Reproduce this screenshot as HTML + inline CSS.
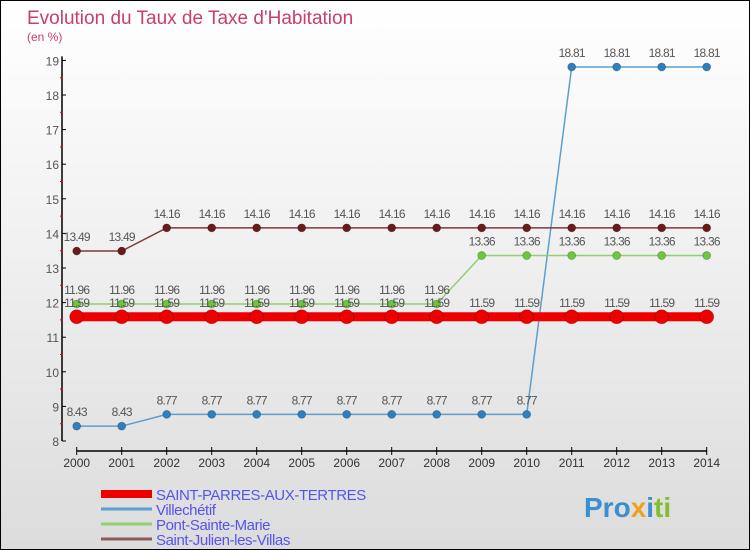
<!DOCTYPE html>
<html><head><meta charset="utf-8"><style>
body{margin:0;}
#c{width:748px;height:548px;border:1px solid #000;background:linear-gradient(#fff,#f2f2f2 40%,#dcdcdc);position:relative;font-family:"Liberation Sans",sans-serif;overflow:hidden}
</style></head><body>
<div id="c">
<svg id="s" width="748" height="548" xmlns="http://www.w3.org/2000/svg" font-family="Liberation Sans, sans-serif">
<text x="26" y="23" font-size="19" fill="#c8406a">Evolution du Taux de Taxe d'Habitation</text>
<text x="26" y="40" font-size="12" fill="#c8406a">(en %)</text>
<g id="axes"></g><g id="marks"></g><g id="legend"></g>
<text x="583" y="516" font-size="28" font-weight="bold" fill="#3a8fd0">Pro<tspan fill="#f0a020">x</tspan><tspan fill="#3a8fd0">i</tspan><tspan fill="#80c030">ti</tspan></text>
</svg></div>
<script>
const years=[2000,2001,2002,2003,2004,2005,2006,2007,2008,2009,2010,2011,2012,2013,2014];
const yTicks=[8,9,10,11,12,13,14,15,16,17,18,19];
const sNames=["SAINT-PARRES-AUX-TERTRES","Villechétif","Pont-Sainte-Marie","Saint-Julien-les-Villas"];
const saintParres=[11.59,11.59,11.59,11.59,11.59,11.59,11.59,11.59,11.59,11.59,11.59,11.59,11.59,11.59,11.59];
const villechetif=[8.43,8.43,8.77,8.77,8.77,8.77,8.77,8.77,8.77,8.77,8.77,18.81,18.81,18.81,18.81];
const pontSainteMarie=[11.96,11.96,11.96,11.96,11.96,11.96,11.96,11.96,11.96,13.36,13.36,13.36,13.36,13.36,13.36];
const saintJulien=[13.49,13.49,14.16,14.16,14.16,14.16,14.16,14.16,14.16,14.16,14.16,14.16,14.16,14.16,14.16];
const NS="http://www.w3.org/2000/svg";
const X=i=>75.7+i*45;
const Y=v=>440-(v-8)*34.6;
function mk(tag,attrs,parent,txt){const e=document.createElementNS(NS,tag);for(const k in attrs)e.setAttribute(k,attrs[k]);if(txt!==undefined)e.textContent=txt;parent.appendChild(e);return e;}
const ax=document.getElementById('axes'),mg=document.getElementById('marks'),lg=document.getElementById('legend');
let l=mk('line',{x1:61,y1:Y(19)-4,x2:61,y2:440,stroke:'#000','stroke-width':1.5},ax);


l=mk('line',{x1:X(0),y1:450,x2:X(14),y2:450,stroke:'#000','stroke-width':1.5},ax);


yTicks.forEach(v=>{
 mk('line',{x1:61,y1:Y(v),x2:65,y2:Y(v),stroke:'#000'},ax);
 if(v<19)mk('line',{x1:59,y1:Y(v+0.5),x2:62,y2:Y(v+0.5),stroke:'#e00'},ax);
 const t=mk('text',{x:58,y:Y(v)+5,'font-size':12,fill:'#555','text-anchor':'end'},ax,v);
 
 
});
years.forEach((yr,i)=>{
 mk('line',{x1:X(i),y1:446,x2:X(i),y2:454,stroke:'#000'},ax);
 const t=mk('text',{x:X(i),y:466,'font-size':12,fill:'#333','text-anchor':'middle'},ax,yr);
 
 
});
const series=[[villechetif,'#5a9fd0','#2e7fc0',1.5,4,'villechetif'],[pontSainteMarie,'#90d070','#6cc83a',1.5,4,'pont-sainte-marie'],[saintJulien,'#7a3a3a','#6a1a1a',1.5,4,'saint-julien'],[saintParres,'#ee0000','#ee0000',9,7,'saint-parres']];
series.forEach(([d,lc,pc,w,r,n])=>{
 const p=mk('polyline',{points:d.map((v,i)=>X(i)+','+Y(v)).join(' '),fill:'none',stroke:lc,'stroke-width':w},mg);
 
 
 d.forEach((v,i)=>{
  const c=mk('circle',{cx:X(i),cy:Y(v),r:r,fill:pc,stroke:'rgba(0,0,0,0.25)','stroke-width':0.8},mg);
  
  
  const t=mk('text',{x:X(i),y:Y(v)-10,'font-size':12,fill:'#555','text-anchor':'middle','letter-spacing':'-0.8'},mg,v.toFixed(2));
  
  
 });
});
const lcols=['#ee0000','#5a9fd0','#90d070','#8a5a5a'],lw=[8,3,3,3];
sNames.forEach((n,i)=>{
 const y=493+i*15;
 mk('line',{x1:100,y1:y,x2:151,y2:y,stroke:lcols[i],'stroke-width':lw[i]},lg);
 const t=mk('text',{x:155,y:y+6,'font-size':15,fill:'#5555ee','letter-spacing':'-0.4'},lg,n);
 
 
});
</script>
</body></html>
